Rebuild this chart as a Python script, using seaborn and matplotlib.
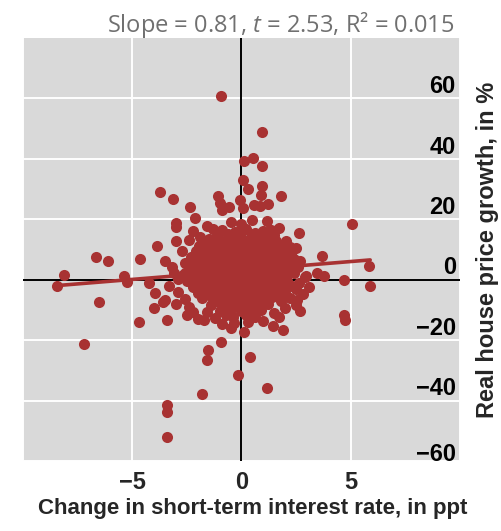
import matplotlib
matplotlib.use("Agg")
import matplotlib.pyplot as plt
import seaborn as sns
import numpy as np
import pandas as pd

# ---------------- data ----------------
outer_x = [-0.92, 0.92, 0.11, 0.54, 0.92, 0.06, 0.31, 0.92, 0.87, 1.79,
           -3.75, -3.13, -2.34, -2.11, -1.07, -0.99, -0.89, -0.58, -0.08, 0.08,
           0.57, 0.84, 1.21, -2.98, -2.98, -1.57, 2.63, 5.05, -2.98, -2.42,
           -2.72, -3.87, -4.66, -3.52, -1.96, 3.70, 3.47, 3.78, 4.69, 5.84,
           5.89, 2.63, 2.94, 2.25, 2.05, 1.51, 1.18, 1.33, 2.55, 2.48,
           2.66, 1.79, 1.48, 1.45, 1.90, 4.69, 4.72, -4.02, -4.68, -3.41,
           -2.49, -1.73, -1.22, -0.73, -0.50, 0.11, -0.93, -1.55, -1.57, 0.38,
           -0.35, -5.40, -5.22, -4.25, -3.94, -3.49, -3.10, -2.57, -8.12, -8.43,
           -6.67, -6.09, -6.51, -7.20, -3.39, -3.39, -3.43, -1.79, -0.18, 1.15]
outer_y = [60.8, 48.9, 39.4, 40.4, 37.5, 33.1, 30.1, 31.1, 28.1, 27.8,
           28.9, 26.7, 24.2, 20.4, 27.8, 25.4, 23.1, 24.2, 26.4, 23.7,
           24.8, 24.5, 25.1, 18.7, 17.6, 17.9, 15.6, 18.3, 12.7, 13.0,
           9.6, 11.0, 6.8, 6.3, 11.0, 7.9, 2.2, 1.1, 0.0, 4.7,
           -2.2, -1.1, 1.1, 8.8, 12.7, 11.0, 19.3, 16.5, -6.6, -8.3,
           -10.5, -7.2, -11.0, -15.4, -16.8, -11.6, -13.2, -9.4, -14.0, -13.2,
           -11.6, -13.2, -12.7, -11.6, -16.0, -17.3, -20.7, -23.1, -26.7, -25.6,
           -14.3, 1.3, -0.6, -1.1, -4.4, -6.6, 2.2, 2.2, 1.4, -2.2,
           7.5, 6.1, -7.5, -21.2, -41.5, -43.8, -51.9, -37.7, -31.4, -35.7]

core_x = [-0.9, -0.3, 0.2, 0.6, 1.0,
          -1.5, -1.1, -0.6, -0.1, 0.4, 0.8, 1.3,
          -1.8, -1.3, -0.8, -0.4, 0.1, 0.5, 0.9, 1.4, 1.8,
          -2.1, -1.6, -1.2, -0.7, -0.2, 0.3, 0.7, 1.1, 1.6, 2.0,
          -2.3, -1.8, -1.4, -0.9, -0.5, 0.0, 0.4, 0.8, 1.2, 1.7, 2.1,
          -2.6, -2.0, -1.5, -1.1, -0.6, -0.2, 0.2, 0.6, 1.0, 1.5, 1.9, 2.3,
          -2.4, -1.9, -1.3, -0.8, -0.4, 0.1, 0.5, 0.9, 1.3, 1.8, 2.2,
          -2.7, -2.2, -1.7, -1.2, -0.7, -0.3, 0.2, 0.6, 1.0, 1.4, 1.9, 2.4,
          -2.5, -2.0, -1.5, -1.0, -0.5, 0.0, 0.4, 0.8, 1.2, 1.7, 2.1,
          -2.2, -1.7, -1.2, -0.8, -0.3, 0.1, 0.5, 0.9, 1.4, 1.8, 2.3,
          -2.0, -1.5, -1.0, -0.6, -0.1, 0.3, 0.7, 1.1, 1.6, 2.0,
          -1.8, -1.3, -0.8, -0.4, 0.1, 0.5, 0.9, 1.4,
          -1.4, -0.9, -0.5, 0.0, 0.4, 0.8, 1.2,
          -1.0, -0.5, 0.0, 0.4, 0.9,
          -0.4, 0.2, 0.6]
core_y = [16.5, 15.8, 16.8, 15.5, 16.2,
          13.5, 14.6, 13.9, 14.3, 13.6, 14.8, 13.8,
          11.6, 12.4, 11.8, 12.6, 11.5, 12.3, 11.7, 12.5, 11.4,
          9.5, 10.3, 9.8, 10.5, 9.6, 10.4, 9.7, 10.2, 9.4, 10.1,
          7.6, 8.3, 7.8, 8.4, 7.5, 8.2, 7.7, 8.5, 7.6, 8.1, 7.4,
          5.6, 6.3, 5.8, 6.4, 5.5, 6.2, 5.7, 6.5, 5.9, 6.3, 5.6, 6.1,
          3.7, 4.4, 3.8, 4.3, 3.5, 4.2, 3.9, 4.5, 3.6, 4.2, 3.8,
          1.6, 2.3, 1.8, 2.4, 1.5, 2.2, 1.7, 2.5, 1.9, 2.3, 1.6, 2.2,
          -0.4, 0.3, -0.2, 0.4, -0.5, 0.2, -0.3, 0.5, -0.1, 0.3, -0.4,
          -2.4, -1.7, -2.3, -1.6, -2.5, -1.8, -2.2, -1.5, -2.3, -1.7, -2.1,
          -4.3, -3.6, -4.4, -3.7, -4.2, -3.5, -4.5, -3.8, -4.1, -3.6,
          -6.2, -5.6, -6.4, -5.7, -6.3, -5.5, -6.1, -5.8,
          -8.3, -7.6, -8.4, -7.7, -8.2, -7.5, -8.1,
          -10.2, -9.6, -10.4, -9.8, -10.1,
          -12.2, -11.8, -12.4]

core2_x = [-0.6, 0.0, 0.5, 1.1,
           -1.3, -0.8, -0.3, 0.2, 0.7, 1.1, 1.6,
           -1.5, -1.0, -0.5, 0.0, 0.6, 1.1, 1.6, 2.2,
           -1.9, -1.4, -0.9, -0.4, 0.1, 0.6, 1.0, 1.4, 1.9,
           -2.1, -1.6, -1.1, -0.7, -0.2, 0.3, 0.8, 1.3, 1.8, 2.4,
           -2.2, -1.7, -1.2, -0.7, -0.3, 0.2, 0.7, 1.2, 1.6, 2.1,
           -2.0, -1.5, -1.0, -0.5, 0.0, 0.4, 0.9, 1.3, 1.7, 2.2,
           -2.3, -1.8, -1.3, -0.8, -0.3, 0.2, 0.7, 1.1, 1.6, 2.0,
           -1.9, -1.4, -0.9, -0.4, 0.1, 0.6, 1.0, 1.5, 2.0,
           -1.8, -1.3, -0.8, -0.3, 0.2, 0.6, 1.1, 1.5,
           -1.5, -1.0, -0.5, 0.0, 0.4, 0.9, 1.3, 1.8,
           -1.1, -0.6, -0.1, 0.3, 0.7, 1.1,
           -0.7, -0.2, 0.2, 0.7]
core2_y = [15.0, 15.3, 14.9, 15.2,
           13.1, 12.9, 13.2, 12.8, 13.0, 13.3, 12.9,
           11.0, 11.2, 10.9, 11.1, 10.8, 11.3, 11.0, 10.9,
           9.1, 8.9, 9.2, 8.8, 9.0, 9.3, 8.9, 9.1, 8.8,
           7.0, 7.2, 6.9, 7.1, 6.8, 7.3, 7.0, 6.9, 7.2, 6.8,
           5.1, 4.9, 5.2, 4.8, 5.0, 5.3, 4.9, 5.1, 4.8, 5.2,
           3.0, 2.8, 3.1, 2.9, 3.2, 2.8, 3.0, 3.1, 2.9, 2.7,
           1.0, 0.8, 1.1, 0.9, 1.2, 0.8, 1.0, 1.1, 0.9, 0.7,
           -1.0, -1.2, -0.9, -1.1, -0.8, -1.2, -1.0, -0.9, -1.1,
           -3.0, -2.8, -3.1, -2.9, -3.2, -2.8, -3.0, -3.1,
           -5.0, -4.8, -5.1, -4.9, -5.2, -4.8, -5.0, -5.1,
           -7.0, -6.8, -7.1, -6.9, -7.2, -6.8,
           -9.0, -8.8, -9.1, -8.9]

mid_x = [-3.3, -2.9, -3.0, -2.6, -2.9, -3.2, -2.4, -2.2, -3.6, -2.0,
         2.6, 2.5, 2.8, 2.7, 2.5, 2.9, 3.1, 2.2, 2.0, 1.7,
         -1.3, 1.5, -1.9, 0.0, 0.5, -0.5, 1.7, -2.2,
         0.3, -0.9, 1.0, -1.6]
mid_y = [-2.0, -4.2, -8.0, -6.3, 0.3, 4.1, -9.1, -10.8, -7.4, -12.9,
         4.3, -3.2, -4.8, 6.2, 10.4, 0.8, -2.3, -6.0, -9.4, -12.5,
         16.8, 14.8, 14.2, 18.5, 19.7, 19.0, 17.2, 16.0,
         -14.0, -14.6, -13.8, -10.6]

x_ticks = [-10, -5, 0, 5, 10]
x_tick_labels = ["", "\u22125", "0", "5", ""]
y_ticks = [-60, -40, -20, 0, 20, 40, 60]
y_tick_labels = ["\u221260", "\u221240", "\u221220", "0", "20", "40", "60"]

title_text = "Slope = 0.81, $\\mathit{t}$ = 2.53, R\u00b2 = 0.015"
x_label = "Change in short-term interest rate, in ppt"
y_label = "Real house price growth, in %"

# ---------------- style ----------------
sns.set_style("white")
plt.rcParams["font.family"] = ["Liberation Sans", "DejaVu Sans"]
plt.rcParams["mathtext.fontset"] = "custom"
plt.rcParams["mathtext.rm"] = "Open Sans"
plt.rcParams["mathtext.it"] = "Open Sans:italic"

red = "#A83232"
bg = "#D9D9D9"

df = pd.DataFrame({
    "rate": outer_x + core_x + core2_x + mid_x,
    "growth": outer_y + core_y + core2_y + mid_y,
})

fig = plt.figure(figsize=(5.02, 5.31), dpi=100)
ax = fig.add_axes([23 / 502, 1 - 461 / 531, 437 / 502, 423 / 531])
ax.set_facecolor(bg)
for s in ax.spines.values():
    s.set_visible(False)

ax.set_xlim(-10, 10)
ax.set_ylim(-60, 80)
ax.set_xticks(x_ticks)
ax.set_xticklabels(x_tick_labels, fontsize=17, fontweight="bold")
ax.set_yticks(y_ticks)
ax.set_yticklabels([])
ax.tick_params(axis="x", direction="in", length=12, width=1, color="black", pad=7)
ax.tick_params(axis="y", length=0)
ax.grid(True, color="white", lw=1.4)
ax.set_axisbelow(True)

ax.axvline(0, color="black", lw=1.4, zorder=1.5)
ax.axhline(0, color="black", lw=1.4, zorder=1.5)

sns.regplot(data=df, x="rate", y="growth", ax=ax, ci=None, color=red,
            scatter_kws={"s": 64, "linewidths": 0, "alpha": 1, "zorder": 3},
            line_kws={"lw": 2.6, "zorder": 4})

ax.set_xlim(-10, 10)
ax.set_ylim(-60, 80)

for v, lab in zip(y_ticks, y_tick_labels):
    dy = 0 if v == y_ticks[0] else 3.8
    ax.annotate(lab, xy=(1, v), xycoords=("axes fraction", "data"),
                xytext=(-3, dy), textcoords="offset points",
                ha="right", va="baseline", fontsize=17, fontweight="bold",
                color="black", zorder=5)

ax.set_xlabel(x_label, fontsize=16, fontweight="bold")
ax.xaxis.set_label_coords(0.525, -0.088)
ax.yaxis.set_label_position("right")
ax.set_ylabel(y_label, fontsize=17, fontweight="bold", rotation=90)
ax.yaxis.set_label_coords(1 + 16 / 437, 0.5)

fig.text(455 / 502, 1 - 32 / 531, title_text, ha="right", va="baseline",
         fontsize=17, color="#707070", family="Open Sans")

fig.savefig("out.png", dpi=100)
